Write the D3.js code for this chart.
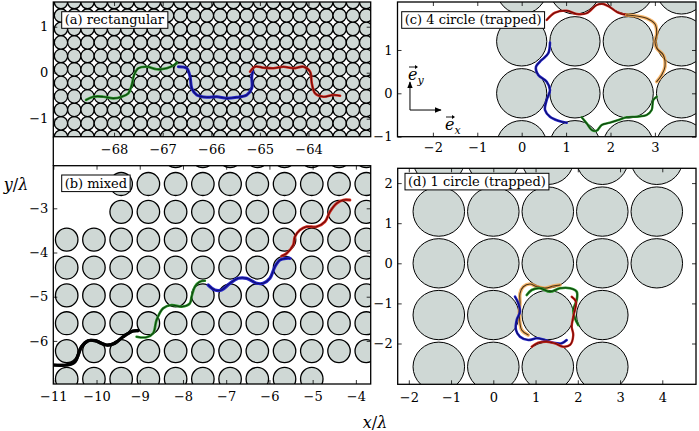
<!DOCTYPE html>
<html><head><meta charset="utf-8">
<script src="https://cdn.jsdelivr.net/npm/d3@7"></script>
<style>body{margin:0;background:#fff}svg{display:block}</style>
</head><body>
<svg id="fig" width="699" height="431"></svg>
<script>
// ---------------- DATA ----------------
// tick values
const aXTicks = [-68, -67, -66, -65, -64];
const aYTicks = [-1, 0, 1];
const bXTicks = [-11, -10, -9, -8, -7, -6, -5, -4];
const bYTicks = [-6, -5, -4, -3];
const cXTicks = [-2, -1, 0, 1, 2, 3];
const cYTicks = [-1, 0, 1];
const dXTicks = [-2, -1, 0, 1, 2, 3, 4];
const dYTicks = [-2, -1, 0, 1, 2];

// panel titles
const panelTitles = ["(a) rectangular", "(b) mixed", "(c) 4 circle (trapped)", "(d) 1 circle (trapped)"];

// obstacle lattices: origin, spacing (x, y), radius (x, y)
const latticeA = {x0: -68, y0: 0.072, dx: 0.273, dy: 0.293, rx: 0.1365, ry: 0.1465};
const latticeB = {x0: -10.69, y0: -4.97, dx: 0.63, dy: 0.63, rx: 0.26, ry: 0.26};
const bRows = [-3, -2, -1, 0, 1, 2, 3, 4, 5];
const bRowFirstCol = [0, 0, 0, 0, 0, 0, 2, 2, 4];
const bRowLastCol = [9, 11, 11, 11, 11, 11, 11, 11, 11];
const latticeC = {x0: 0, y0: 0, dx: 1.2, dy: 1.2, rx: 0.565, ry: 0.57};
const cCols = [0, 1, 2, 3];
const cRows = [-1, 0, 1, 2];
const latticeD = {x0: 0, y0: 0, dx: 1.29, dy: 1.29, rx: 0.61, ry: 0.615};
const dCols = [-1, 0, 1, 2, 3];
const dRows = [-2, -1, 0, 1, 2];
const dMissing = [[3, -1], [3, -2]];

// trajectories (x/λ, y/λ)
const aGreen = [[-68.576,-0.593],[-68.426,-0.522],[-68.220,-0.522],[-68.014,-0.557],[-67.842,-0.522],[-67.706,-0.448],[-67.636,-0.267],[-67.588,-0.050],[-67.500,0.096],[-67.327,0.130],[-67.121,0.074],[-66.916,0.096],[-66.765,0.167],[-66.710,0.217]];
const aBlue = [[-66.677,0.130],[-66.504,0.096],[-66.436,-0.087],[-66.401,-0.339],[-66.298,-0.485],[-66.093,-0.535],[-65.887,-0.522],[-65.681,-0.557],[-65.475,-0.535],[-65.270,-0.485],[-65.167,-0.339],[-65.167,-0.087],[-65.146,0.022]];
const aRed = [[-65.202,0.022],[-65.099,0.130],[-64.928,0.109],[-64.722,0.096],[-64.516,0.130],[-64.311,0.096],[-64.105,0.130],[-63.967,0.022],[-63.932,-0.230],[-63.864,-0.448],[-63.693,-0.522],[-63.488,-0.485],[-63.350,-0.500]];

const bBlack = [[-11.005,-6.545],[-10.694,-6.545],[-10.502,-6.471],[-10.347,-6.131],[-10.194,-5.995],[-10.039,-5.995],[-9.769,-6.093],[-9.576,-6.054],[-9.384,-5.905],[-9.153,-5.776],[-9.037,-5.769]];
const bGreen = [[-9.074,-5.905],[-8.843,-5.919],[-8.690,-5.828],[-8.611,-5.527],[-8.458,-5.262],[-8.264,-5.188],[-8.032,-5.226],[-7.840,-5.149],[-7.801,-5.000],[-7.725,-4.774],[-7.609,-4.661],[-7.493,-4.638]];
const bBlue = [[-7.417,-4.735],[-7.262,-4.848],[-7.106,-4.848],[-6.914,-4.697],[-6.722,-4.584],[-6.528,-4.584],[-6.296,-4.697],[-6.144,-4.697],[-5.988,-4.584],[-5.873,-4.321],[-5.757,-4.170],[-5.602,-4.131],[-5.525,-4.131]];
const bRed = [[-5.718,-4.079],[-5.602,-4.018],[-5.449,-3.830],[-5.410,-3.643],[-5.294,-3.491],[-5.139,-3.416],[-4.907,-3.416],[-4.715,-3.303],[-4.600,-3.077],[-4.444,-2.887],[-4.292,-2.812],[-4.137,-2.812]];

const cBlue = [[0.637,1.169],[0.599,0.924],[0.450,0.769],[0.322,0.614],[0.374,0.423],[0.563,0.268],[0.637,0.076],[0.563,-0.155],[0.525,-0.386],[0.637,-0.540],[0.824,-0.633],[1.014,-0.679]];
const cRed = [[0.563,1.693],[0.750,1.861],[1.014,1.908],[1.239,1.831],[1.464,1.848],[1.689,2.039],[1.838,2.062],[1.989,1.986],[2.176,1.861],[2.365,1.808]];
const cOrange = [[2.365,1.808],[2.590,1.785],[2.815,1.732],[3.002,1.600],[3.041,1.386],[3.002,1.192],[3.041,1.039],[3.189,0.885],[3.227,0.614],[3.153,0.423],[3.041,0.268]];
const cGreen = [[3.041,-0.079],[2.964,-0.155],[2.928,-0.386],[2.815,-0.501],[2.590,-0.540],[2.365,-0.554],[2.176,-0.617],[1.989,-0.679],[1.802,-0.732],[1.689,-0.864],[1.577,-0.848],[1.464,-0.693],[1.351,-0.554]];

const dBlue = [[0.514,-0.833],[0.592,-0.998],[0.632,-1.207],[0.554,-1.414],[0.537,-1.663],[0.632,-1.830],[0.828,-1.913],[1.027,-1.870],[1.224,-1.913],[1.420,-1.980],[1.619,-1.995],[1.737,-1.913]];
const dOrange = [[0.828,-1.788],[0.672,-1.663],[0.615,-1.247],[0.632,-0.998],[0.632,-0.748],[0.710,-0.584],[0.869,-0.516],[1.027,-0.584],[1.224,-0.623],[1.420,-0.566],[1.579,-0.541]];
const dGreen = [[0.791,-0.791],[0.909,-0.666],[1.105,-0.623],[1.342,-0.708],[1.579,-0.623],[1.815,-0.623],[1.974,-0.708],[1.974,-0.915],[1.893,-1.165],[1.934,-1.372],[2.012,-1.539]];
const dRed = [[1.856,-0.833],[1.957,-0.958],[1.893,-1.332],[1.856,-1.581],[1.893,-1.788],[1.815,-2.037],[1.657,-2.080],[1.456,-1.995],[1.264,-1.955],[1.065,-1.980],[0.909,-2.080]];

// ---------------- STYLE ----------------
const FONT = "'DejaVu Serif', serif";
const FILL = "#cfd8d5";
const COL = {
  green: {band: "#2a9a2a", core: "#0a300a"},
  blue: {band: "#2424c8", core: "#0a0a60"},
  red: {band: "#d42a1e", core: "#5a0505"},
  black: {band: "#000000", core: "#000000"},
  orange: {band: "#f7a340", core: "#2a1a08"}
};

const svg = d3.select("#fig");
const defs = svg.append("defs");

function latticePoints(L, cols, rows, skip) {
  const pts = [];
  rows.forEach(j => cols.forEach(k => {
    if (skip && skip.some(s => s[0] === k && s[1] === j)) return;
    pts.push([L.x0 + k * L.dx, L.y0 + j * L.dy]);
  }));
  return pts;
}
function range(a, b) { const r = []; for (let i = a; i <= b; i++) r.push(i); return r; }

const fmt = d => d < 0 ? "\u2212" + Math.abs(d) : String(d);

function panel(cfg) {
  const [x0, x1, y0, y1] = cfg.px;
  const x = d3.scaleLinear().domain(cfg.xDom).range([x0, x1]);
  const y = d3.scaleLinear().domain(cfg.yDom).range([y1, y0]);
  const id = "clip" + cfg.key;
  defs.append("clipPath").attr("id", id).append("rect")
    .attr("x", x0).attr("y", y0).attr("width", x1 - x0).attr("height", y1 - y0);
  const g = svg.append("g").attr("clip-path", `url(#${id})`);
  const L = cfg.lattice;
  const rxp = Math.abs(x(L.rx) - x(0)), ryp = Math.abs(y(0) - y(L.ry));
  g.selectAll("ellipse").data(cfg.circles).join("ellipse")
    .attr("cx", d => x(d[0])).attr("cy", d => y(d[1]))
    .attr("rx", rxp).attr("ry", ryp)
    .attr("fill", FILL).attr("stroke", "#000").attr("stroke-width", cfg.cw);
  const line = d3.line().x(d => x(d[0])).y(d => y(d[1])).curve(d3.curveCatmullRom.alpha(0.5));
  cfg.trajs.forEach(t => {
    const c = COL[t.c];
    g.append("path").attr("d", line(t.d)).attr("fill", "none")
      .attr("stroke", c.band).attr("stroke-width", t.w).attr("stroke-opacity", t.c === "orange" ? 0.75 : 1)
      .attr("stroke-linecap", "round").attr("stroke-linejoin", "round");
    g.append("path").attr("d", line(t.d)).attr("fill", "none")
      .attr("stroke", c.core).attr("stroke-width", t.c === "black" ? t.w : 1.1).attr("stroke-opacity", 0.85)
      .attr("stroke-linecap", "round").attr("stroke-linejoin", "round");
  });
  // axes (inward ticks on all sides)
  const ax = (gen, tr, labels, pad) => {
    const a = svg.append("g").attr("transform", tr)
      .call(gen.tickSizeInner(-4).tickSizeOuter(0).tickPadding(pad).tickFormat(labels ? fmt : () => ""));
    a.attr("font-family", FONT).attr("font-size", 13);
    a.select(".domain").remove();
    a.selectAll(".tick line").attr("stroke", "#000").attr("stroke-width", 0.8);
    a.selectAll(".tick text").attr("fill", "#000");
    return a;
  };
  ax(d3.axisBottom(x).tickValues(cfg.xTicks), `translate(0,${y1})`, true, cfg.xPad);
  ax(d3.axisTop(x).tickValues(cfg.xTicks), `translate(0,${y0})`, false, 0);
  ax(d3.axisLeft(y).tickValues(cfg.yTicks), `translate(${x0},0)`, true, 5);
  ax(d3.axisRight(y).tickValues(cfg.yTicks), `translate(${x1},0)`, false, 0);
  svg.append("rect").attr("x", x0).attr("y", y0).attr("width", x1 - x0).attr("height", y1 - y0)
    .attr("fill", "none").attr("stroke", "#000").attr("stroke-width", 1.3);
  // title box
  const tg = svg.append("g");
  const txt = tg.append("text").attr("x", cfg.tPos[0] + 3).attr("y", cfg.tPos[1] + 12.6)
    .attr("font-family", FONT).attr("font-size", 13).attr("fill", "#000").text(cfg.title);
  const bb = txt.node().getBBox();
  tg.insert("rect", "text").attr("x", cfg.tPos[0]).attr("y", cfg.tPos[1])
    .attr("width", bb.width + 6).attr("height", 16.6)
    .attr("fill", "#fff").attr("stroke", "#000").attr("stroke-width", 1);
  return {x, y};
}

// connector of the left frame between panels (a) and (b)
svg.append("line").attr("x1", 53.3).attr("x2", 53.3).attr("y1", 136.7).attr("y2", 165.7)
  .attr("stroke", "#000").attr("stroke-width", 1.3);

// (a)
const aCols = range(-6, 20), aRows = range(-5, 5);
panel({key: "a", px: [53.3, 370.7, 2, 136.7], xDom: [-69.25, -62.72], yDom: [-1.391, 1.537],
  lattice: latticeA, circles: latticePoints(latticeA, aCols, aRows), cw: 1.3,
  trajs: [{c: "green", d: aGreen, w: 2.6}, {c: "blue", d: aBlue, w: 3}, {c: "red", d: aRed, w: 2.6}],
  xTicks: aXTicks, yTicks: aYTicks, xPad: 8, title: panelTitles[0], tPos: [61.7, 11.7]});

// (b)
const bCircles = [];
bRows.forEach((j, i) => range(bRowFirstCol[i], bRowLastCol[i]).forEach(k =>
  bCircles.push([latticeB.x0 + k * latticeB.dx, latticeB.y0 + j * latticeB.dy])));
panel({key: "b", px: [53.3, 370.7, 165.7, 384], xDom: [-11, -3.657], yDom: [-6.975, -2.036],
  lattice: latticeB, circles: bCircles, cw: 1.3,
  trajs: [{c: "black", d: bBlack, w: 3.2}, {c: "green", d: bGreen, w: 2.6}, {c: "blue", d: bBlue, w: 3.2}, {c: "red", d: bRed, w: 2.8}],
  xTicks: bXTicks, yTicks: bYTicks, xPad: 8, title: panelTitles[1], tPos: [61.7, 175]});

// (c)
const pc = panel({key: "c", px: [397.5, 696, 2, 136.7], xDom: [-2.797, 3.926], yDom: [-1.002, 2.108],
  lattice: latticeC, circles: latticePoints(latticeC, cCols, cRows), cw: 1,
  trajs: [{c: "blue", d: cBlue, w: 2.6}, {c: "red", d: cRed, w: 2.4}, {c: "orange", d: cOrange, w: 3.6}, {c: "green", d: cGreen, w: 2.4}],
  xTicks: cXTicks, yTicks: cYTicks, xPad: 6.5, title: panelTitles[2], tPos: [401.7, 11.7]});

// (d)
panel({key: "d", px: [397.7, 696, 168.3, 384.3], xDom: [-2.263, 4.798], yDom: [-3.017, 2.369],
  lattice: latticeD, circles: latticePoints(latticeD, dCols, dRows, dMissing), cw: 1,
  trajs: [{c: "orange", d: dOrange, w: 3.6}, {c: "blue", d: dBlue, w: 2.6}, {c: "green", d: dGreen, w: 2.6}, {c: "red", d: dRed, w: 2.4}],
  xTicks: dXTicks, yTicks: dYTicks, xPad: 8, title: panelTitles[3], tPos: [405, 173.3]});

// unit vectors in (c)
defs.append("marker").attr("id", "ah").attr("viewBox", "0 0 10 10").attr("refX", 9).attr("refY", 5)
  .attr("markerWidth", 7).attr("markerHeight", 7).attr("orient", "auto")
  .append("path").attr("d", "M0,1 L10,5 L0,9 z").attr("fill", "#000");
const ox = pc.x(-2.516), oy = pc.y(-0.386);
svg.append("line").attr("x1", ox).attr("y1", oy).attr("x2", ox).attr("y2", pc.y(0.26))
  .attr("stroke", "#000").attr("stroke-width", 1).attr("marker-end", "url(#ah)");
svg.append("line").attr("x1", ox).attr("y1", oy).attr("x2", pc.x(-1.818)).attr("y2", oy)
  .attr("stroke", "#000").attr("stroke-width", 1).attr("marker-end", "url(#ah)");
function vecLabel(px, py, sub) {
  const t = svg.append("text").attr("x", px).attr("y", py).attr("font-family", FONT)
    .attr("font-style", "italic").attr("font-size", 16).attr("fill", "#000");
  t.append("tspan").text("e");
  t.append("tspan").attr("font-size", 11).attr("dy", 4).text(sub);
  const ah = svg.append("g");
  ah.append("line").attr("x1", px + 1).attr("x2", px + 9).attr("y1", py - 13).attr("y2", py - 13)
    .attr("stroke", "#000").attr("stroke-width", 0.9);
  ah.append("path").attr("d", `M${px + 10},${py - 13} l-3,-2 v4 z`).attr("fill", "#000");
}
vecLabel(408, 80, "y");
vecLabel(445, 130, "x");

// axis labels
svg.append("text").attr("x", 16).attr("y", 190).attr("text-anchor", "middle")
  .attr("font-family", FONT).attr("font-size", 16).attr("fill", "#000")
  .html('<tspan font-style="italic">y</tspan>/<tspan font-style="italic">λ</tspan>');
svg.append("text").attr("x", 375).attr("y", 428).attr("text-anchor", "middle")
  .attr("font-family", FONT).attr("font-size", 16).attr("fill", "#000")
  .html('<tspan font-style="italic">x</tspan>/<tspan font-style="italic">λ</tspan>');
</script>
</body></html>
